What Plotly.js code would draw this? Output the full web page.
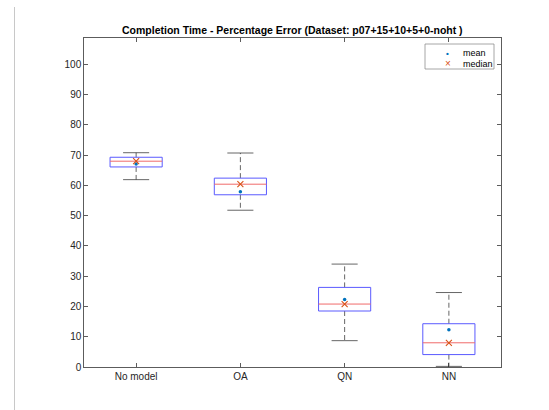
<!DOCTYPE html>
<html><head><meta charset="utf-8">
<script src="https://cdn.plot.ly/plotly-3.0.1.min.js"></script>
<style>html,body{margin:0;padding:0;background:#fff;}#c{width:549px;height:410px;position:relative;}
#vline{position:absolute;left:14px;top:7px;width:1px;height:403px;background:#c8c8c8;z-index:5;}</style>
</head><body><div id="c"><div id="vline"></div></div>
<script>
const categories = ["No model", "OA", "QN", "NN"];
const q1 = [66.1, 56.9, 18.5, 4.1];
const medians = [68.0, 60.4, 20.8, 8.0];
const q3 = [69.3, 62.4, 26.3, 14.3];
const lowerWhisker = [61.9, 51.8, 8.7, 0.2];
const upperWhisker = [70.8, 70.7, 34.0, 24.6];
const means = [67.1, 57.9, 22.3, 12.3];
const yTicks = [0,10,20,30,40,50,60,70,80,90,100];
const legendNames = ["mean", "median"];

const pos = categories.map((c,i)=>i+1);
const hw = 0.25, cw = 0.125;
const traces = [];
function seg(xs, ys, color, dash, width){
  traces.push({type:'scatter', mode:'lines', x:xs, y:ys, showlegend:false, hoverinfo:'skip',
    line:{color:color, width:width||0.75, dash:dash||'solid'}});
}
pos.forEach((p,i)=>{
  seg([p,p],[q3[i],upperWhisker[i]],'#333333','5px,3px');
  seg([p,p],[q1[i],lowerWhisker[i]],'#333333','5px,3px');
  seg([p-cw,p+cw],[upperWhisker[i],upperWhisker[i]],'#333333');
  seg([p-cw,p+cw],[lowerWhisker[i],lowerWhisker[i]],'#333333');
  seg([p-hw,p+hw,p+hw,p-hw,p-hw],[q1[i],q1[i],q3[i],q3[i],q1[i]],'#5a5aff',null,1);
  seg([p-hw,p+hw],[medians[i],medians[i]],'#f06a6a',null,1);
});
traces.push({type:'scatter', mode:'markers', name:legendNames[0], x:pos, y:means, showlegend:false,
  marker:{symbol:'circle', size:3.5, color:'#0072BD'}});
traces.push({type:'scatter', mode:'markers', name:legendNames[1], x:pos, y:medians, showlegend:false,
  marker:{symbol:'x-thin', size:6, color:'#D95319', line:{color:'#D95319', width:1.1}}});

const ff = 'Liberation Sans, Arial, sans-serif';
const axFont = {family:ff, size:10, color:'#262626'};
// custom legend (paper coords): plot area l=84..501, t=38..367
const px = v => (v-84)/417, py = v => (367-v)/329;
const layout = {
  width:549, height:410,
  margin:{l:84, r:48, t:38, b:43},
  paper_bgcolor:'#fff', plot_bgcolor:'#fff',
  title:{text:'<b>Completion Time - Percentage Error (Dataset: p07+15+10+5+0-noht )</b>',
    font:{family:ff, size:10.5, color:'#000'},
    x:0.5325, xanchor:'center', y:1-30/410, yanchor:'middle'},
  xaxis:{range:[0.5,4.5], tickvals:pos, ticktext:categories, showgrid:false, zeroline:false,
    showline:true, linecolor:'#262626', linewidth:0.75, mirror:'ticks', ticks:'inside',
    ticklen:4, tickcolor:'#262626', tickwidth:0.75, tickfont:axFont},
  yaxis:{range:[0,108.7], tickvals:yTicks, showgrid:false, zeroline:false,
    showline:true, linecolor:'#262626', linewidth:0.75, mirror:'ticks', ticks:'inside',
    ticklen:4, tickcolor:'#262626', tickwidth:0.75, tickfont:axFont},
  showlegend:false,
  shapes:[{type:'rect', xref:'paper', yref:'paper', x0:px(425), x1:px(494), y0:py(69), y1:py(44),
    line:{color:'#8a8a8a', width:0.75}, fillcolor:'#fff', layer:'above'}],
  annotations:[
    {xref:'paper', yref:'paper', x:px(447.7), y:py(53.3), text:'<b>•</b>', showarrow:false,
      font:{family:ff, size:8, color:'#0072BD'}, xanchor:'center', yanchor:'middle'},
    {xref:'paper', yref:'paper', x:px(447.7), y:py(63.5), text:'×', showarrow:false,
      font:{family:ff, size:10, color:'#D95319'}, xanchor:'center', yanchor:'middle'},
    {xref:'paper', yref:'paper', x:px(460.5), y:py(53.3), text:legendNames[0], showarrow:false,
      font:{family:ff, size:9, color:'#000'}, xanchor:'left', yanchor:'middle'},
    {xref:'paper', yref:'paper', x:px(460.5), y:py(63.5), text:legendNames[1], showarrow:false,
      font:{family:ff, size:9, color:'#000'}, xanchor:'left', yanchor:'middle'}
  ]
};
Plotly.newPlot('c', traces, layout, {displayModeBar:false, staticPlot:true});
</script></body></html>
